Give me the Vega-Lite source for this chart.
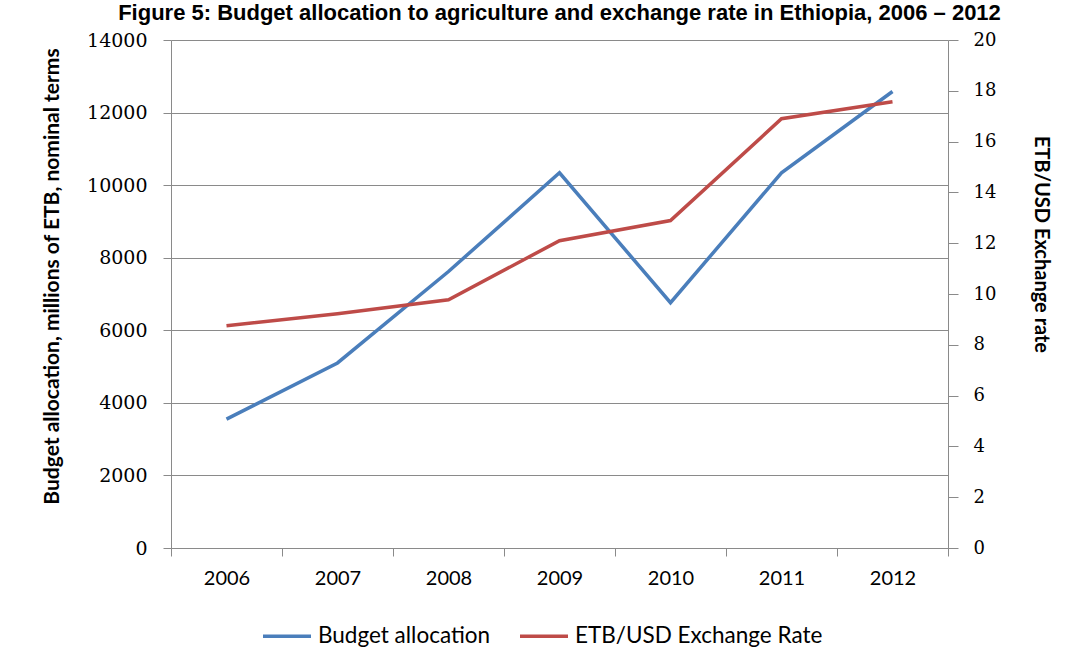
{
  "$schema": "https://vega.github.io/schema/vega-lite/v6.json",
  "width": 777,
  "height": 508,
  "autosize": {"type": "none"},
  "padding": {"left": 171, "top": 40, "right": 135, "bottom": 110},
  "background": "white",
  "title": {
    "text": "Figure 5: Budget allocation to agriculture and exchange rate in Ethiopia, 2006 – 2012",
    "font": "Liberation Sans",
    "fontSize": 22,
    "fontWeight": "bold",
    "color": "black",
    "anchor": "middle",
    "frame": "group",
    "baseline": "alphabetic",
    "offset": 18,
    "dy": 29
  },
  "data": {
    "values": [
      {"year": "2006", "series": "Budget allocation", "value": 3550},
      {"year": "2007", "series": "Budget allocation", "value": 5100},
      {"year": "2008", "series": "Budget allocation", "value": 7620},
      {"year": "2009", "series": "Budget allocation", "value": 10340},
      {"year": "2010", "series": "Budget allocation", "value": 6760},
      {"year": "2011", "series": "Budget allocation", "value": 10340},
      {"year": "2012", "series": "Budget allocation", "value": 12580},
      {"year": "2006", "series": "ETB/USD Exchange Rate", "value": 8.75},
      {"year": "2007", "series": "ETB/USD Exchange Rate", "value": 9.22},
      {"year": "2008", "series": "ETB/USD Exchange Rate", "value": 9.77},
      {"year": "2009", "series": "ETB/USD Exchange Rate", "value": 12.1},
      {"year": "2010", "series": "ETB/USD Exchange Rate", "value": 12.89},
      {"year": "2011", "series": "ETB/USD Exchange Rate", "value": 16.9},
      {"year": "2012", "series": "ETB/USD Exchange Rate", "value": 17.57}
    ]
  },
  "encoding": {
    "x": {
      "field": "year",
      "type": "ordinal",
      "bandPosition": 0.5,
      "scale": {"type": "band", "paddingInner": 0, "paddingOuter": 0},
      "axis": {
        "title": null,
        "labelAngle": 0,
        "labelFont": "Lato",
        "labelFontSize": 20,
        "labelColor": "black",
        "labelPadding": 12,
        "tickBand": "extent",
        "tickSize": 8,
        "tickColor": "#8a8a8a",
        "domainColor": "#8a8a8a",
        "grid": false
      }
    },
    "color": {
      "field": "series",
      "type": "nominal",
      "scale": {"domain": ["Budget allocation", "ETB/USD Exchange Rate"], "range": ["#4A7EBB", "#BE4B48"]},
      "legend": {
        "title": null,
        "orient": "none",
        "legendX": 90,
        "legendY": 570,
        "direction": "horizontal",
        "padding": 0,
        "symbolType": "stroke",
        "symbolSize": 2304,
        "symbolStrokeWidth": 3.5,
        "labelFont": "Lato",
        "labelFontSize": 22.5,
        "labelLimit": 0,
        "labelColor": "black",
        "labelOffset": 5,
        "columnPadding": 22
      }
    }
  },
  "layer": [
    {
      "transform": [{"filter": "datum.series === 'Budget allocation'"}],
      "mark": {"type": "line", "strokeWidth": 3.5},
      "encoding": {
        "y": {
          "field": "value",
          "type": "quantitative",
          "scale": {"domain": [0, 14000], "nice": false},
          "axis": {
            "orient": "left",
            "values": [0, 2000, 4000, 6000, 8000, 10000, 12000, 14000],
            "format": "d",
            "labelFont": "DejaVu Serif",
            "labelFontSize": 19,
            "labelColor": "black",
            "labelPadding": 16,
            "tickSize": 8,
            "tickColor": "#8a8a8a",
            "domainColor": "#8a8a8a",
            "grid": true,
            "gridColor": "#8a8a8a",
            "gridOpacity": 1,
            "title": "Budget allocation, millions of ETB, nominal terms",
            "titleFont": "Lato",
            "titleFontSize": 21,
            "titleFontWeight": "bold",
            "titleColor": "black",
            "titleX": -109,
            "titleY": 236
          }
        }
      }
    },
    {
      "transform": [{"filter": "datum.series === 'ETB/USD Exchange Rate'"}],
      "mark": {"type": "line", "strokeWidth": 3.5},
      "encoding": {
        "y": {
          "field": "value",
          "type": "quantitative",
          "scale": {"domain": [0, 20], "nice": false},
          "axis": {
            "orient": "right",
            "values": [0, 2, 4, 6, 8, 10, 12, 14, 16, 18, 20],
            "labelFont": "DejaVu Serif",
            "labelFontSize": 18,
            "labelColor": "black",
            "labelPadding": 15,
            "tickSize": 10,
            "tickColor": "#8a8a8a",
            "domainColor": "#8a8a8a",
            "grid": false,
            "title": "ETB/USD Exchange rate",
            "titleFont": "Lato",
            "titleFontSize": 20,
            "titleFontWeight": "bold",
            "titleColor": "black",
            "titleX": 82,
            "titleY": 204
          }
        }
      }
    }
  ],
  "resolve": {"scale": {"y": "independent"}},
  "config": {"view": {"stroke": null}}
}
